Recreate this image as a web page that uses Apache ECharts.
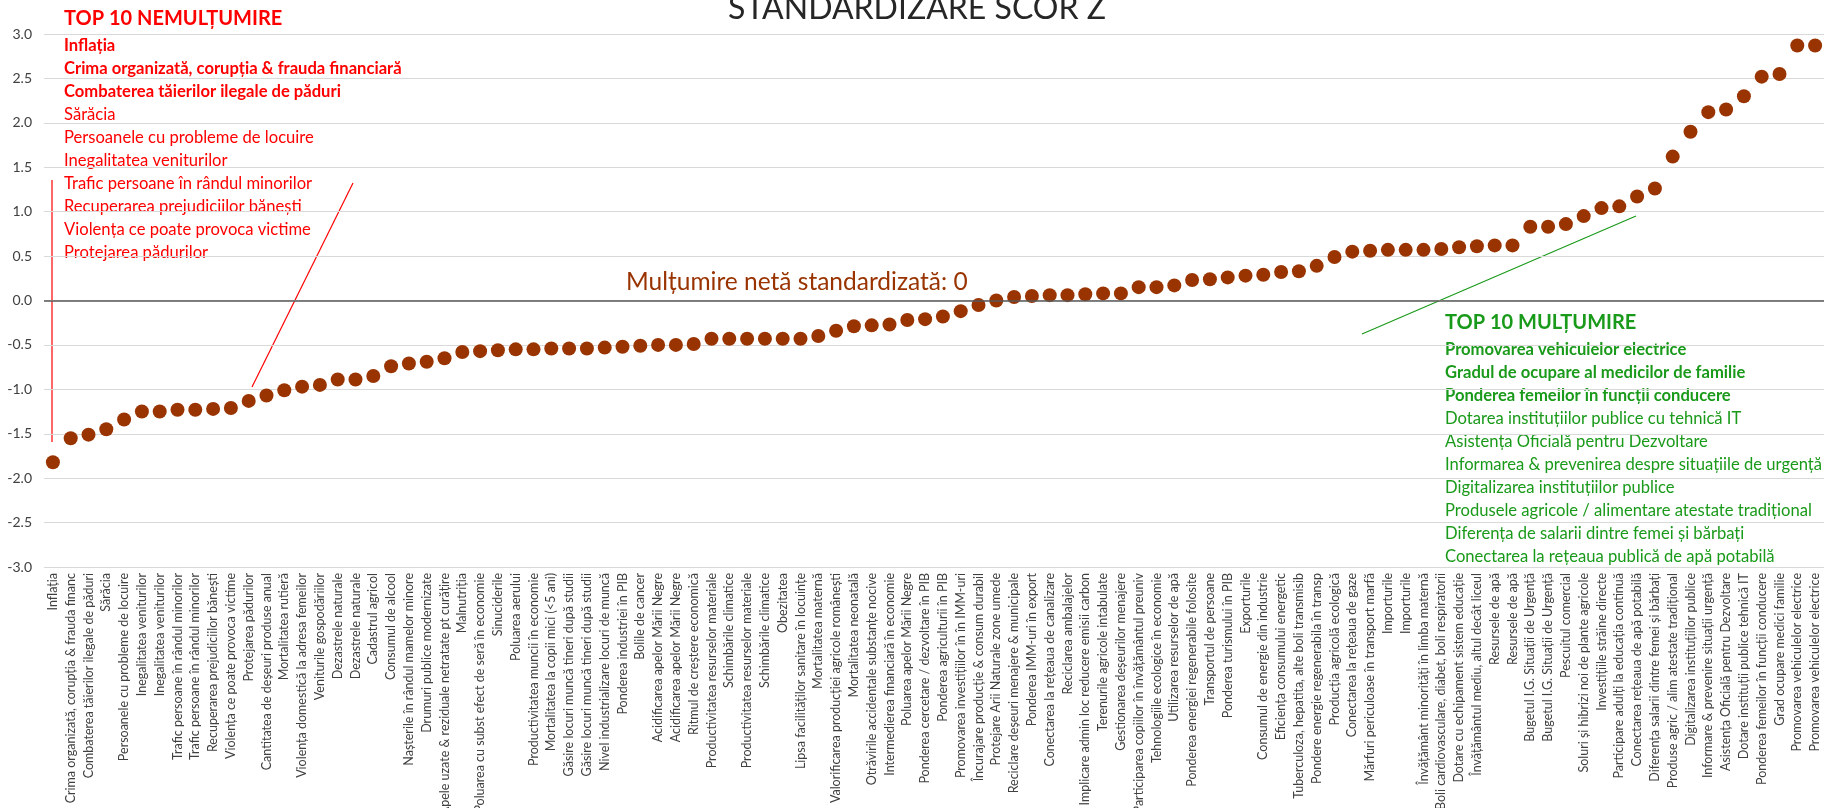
<!DOCTYPE html>
<html lang="ro">
<head>
    <meta charset="UTF-8">
    <title>Standardizare scor Z</title>
    <script src="https://cdn.jsdelivr.net/npm/echarts@6/dist/echarts.min.js"></script>
    <style>
        html, body { margin: 0; padding: 0; background: #fff; }
        #main { width: 1826px; height: 808px; }
    </style>
</head>
<body>
<div id="main"></div>
<script type="text/javascript">
    // categorii (axa X) in ordinea scorului
    var categorii = [
        'Inflația', 'Crima organizată, corupția & frauda financ', 'Combaterea tăierilor ilegale de păduri', 'Sărăcia',
        'Persoanele cu probleme de locuire', 'Inegalitatea veniturilor', 'Inegalitatea veniturilor',
        'Trafic persoane în rândul minorilor', 'Trafic persoane în rândul minorilor', 'Recuperarea prejudiciilor bănești',
        'Violența ce poate provoca victime', 'Protejarea pădurilor', 'Cantitatea de deșeuri produse anual',
        'Mortalitatea rutieră', 'Violența domestică la adresa femeilor', 'Veniturile gospodăriilor',
        'Dezastrele naturale', 'Dezastrele naturale', 'Cadastrul agricol', 'Consumul de alcool',
        'Nașterile în rândul mamelor minore', 'Drumuri publice modernizate', 'Apele uzate & reziduale netratate pt curățire',
        'Malnutriția', 'Poluarea cu subst efect de seră în economie', 'Sinuciderile', 'Poluarea aerului',
        'Productivitatea muncii în economie', 'Mortalitatea la copii mici (<5 ani)', 'Găsire locuri muncă tineri după studii',
        'Găsire locuri muncă tineri după studii', 'Nivel industrializare locuri de muncă', 'Ponderea industriei în PIB',
        'Bolile de cancer', 'Acidificarea apelor Mării Negre', 'Acidificarea apelor Mării Negre',
        'Ritmul de creștere economică', 'Productivitatea resurselor materiale', 'Schimbările climatice',
        'Productivitatea resurselor materiale', 'Schimbările climatice', 'Obezitatea',
        'Lipsa facilităților sanitare în locuințe', 'Mortalitatea maternă', 'Valorificarea producției agricole românești',
        'Mortalitatea neonatală', 'Otrăvirile accidentale substanțe nocive', 'Intermedierea financiară în economie',
        'Poluarea apelor Mării Negre', 'Ponderea cercetare / dezvoltare în PIB', 'Ponderea agriculturii în PIB',
        'Promovarea investițiilor în în IMM-uri', 'Încurajare producție & consum durabil', 'Protejare Arii Naturale zone umede',
        'Reciclare deșeuri menajere & municipale', 'Ponderea IMM-uri în export', 'Conectarea la rețeaua de canalizare',
        'Reciclarea ambalajelor', 'Implicare admin loc reducere emisii carbon', 'Terenurile agricole intabulate',
        'Gestionarea deșeurilor menajere', 'Participarea copiilor în învățământul preuniv', 'Tehnologiile ecologice în economie',
        'Utilizarea resurselor de apă', 'Ponderea energiei regenerabile folosite', 'Transportul de persoane',
        'Ponderea turismului în PIB', 'Exporturile', 'Consumul de energie din industrie', 'Eficiența consumului energetic',
        'Tuberculoza, hepatita, alte boli transmisib', 'Pondere energie regenerabila în transp', 'Producția agricolă ecologică',
        'Conectarea la rețeaua de gaze', 'Mărfuri periculoase în transport marfă', 'Importurile', 'Importurile',
        'Învățământ minorități în limba maternă', 'Boli cardiovasculare, diabet, boli respiratorii',
        'Dotare cu echipament sistem educație', 'Învățământul mediu, altul decât liceul', 'Resursele de apă',
        'Resursele de apă', 'Bugetul I.G. Situații de Urgență', 'Bugetul I.G. Situații de Urgență', 'Pescuitul comercial',
        'Soluri și hibrizi noi de plante agricole', 'Investițiile străine directe', 'Participare adulți la educația continuă',
        'Conectarea rețeaua de apă potabilă', 'Diferența salarii dintre femei și bărbați', 'Produse agric / alim atestate tradițional',
        'Digitalizarea instituțiilor publice', 'Informare & prevenire situații urgență', 'Asistența Oficială pentru Dezvoltare',
        'Dotare instituții publice tehnică IT', 'Ponderea femeilor în funcții conducere', 'Grad ocupare medici familie',
        'Promovarea vehiculelor electrice', 'Promovarea vehiculelor electrice'
    ];

    // scor Z standardizat
    var scoruri = [
        -1.82, -1.55, -1.51, -1.45, -1.34, -1.25, -1.25, -1.23, -1.23, -1.22,
        -1.21, -1.13, -1.07, -1.01, -0.97, -0.95, -0.89, -0.89, -0.85, -0.74,
        -0.71, -0.69, -0.65, -0.58, -0.57, -0.56, -0.55, -0.55, -0.54, -0.54,
        -0.54, -0.53, -0.52, -0.51, -0.50, -0.50, -0.49, -0.43, -0.43, -0.43,
        -0.43, -0.43, -0.43, -0.40, -0.34, -0.29, -0.28, -0.27, -0.22, -0.21,
        -0.18, -0.12, -0.05, 0.00, 0.04, 0.05, 0.06, 0.06, 0.07, 0.08,
        0.08, 0.15, 0.15, 0.17, 0.23, 0.24, 0.26, 0.28, 0.29, 0.32,
        0.33, 0.39, 0.49, 0.55, 0.56, 0.57, 0.57, 0.57, 0.58, 0.60,
        0.61, 0.62, 0.62, 0.83, 0.83, 0.86, 0.95, 1.04, 1.06, 1.17,
        1.26, 1.62, 1.90, 2.12, 2.15, 2.30, 2.52, 2.55, 2.87, 2.87
    ];

    var titluGrafic = 'STANDARDIZARE SCOR Z';
    var textZero = 'Mulțumire netă standardizată: 0';

    var topNemultumire = [
        'Inflația', 'Crima organizată, corupția & frauda financiară', 'Combaterea tăierilor ilegale de păduri',
        'Sărăcia', 'Persoanele cu probleme de locuire', 'Inegalitatea veniturilor',
        'Trafic persoane în rândul minorilor', 'Recuperarea prejudiciilor bănești',
        'Violența ce poate provoca victime', 'Protejarea pădurilor'
    ];
    var topMultumire = [
        'Promovarea vehiculelor electrice', 'Gradul de ocupare al medicilor de familie',
        'Ponderea femeilor în funcții conducere', 'Dotarea instituțiilor publice cu tehnică IT',
        'Asistența Oficială pentru Dezvoltare', 'Informarea & prevenirea despre situațiile de urgență',
        'Digitalizarea instituțiilor publice', 'Produsele agricole / alimentare atestate tradițional',
        'Diferența de salarii dintre femei și bărbați', 'Conectarea la rețeaua publică de apă potabilă'
    ];

    var FONT = 'Lato, "Open Sans", sans-serif';
    var ROSU = '#FF0000';
    var VERDE = '#1A9A1A';
    var MARO = '#993300';

    // lista de text: titlu + 10 randuri (primele 3 ingrosate)
    function listaText(x, yTitlu, titlu, randuri, culoare) {
        var el = [{
            type: 'text', silent: true,
            style: { x: x, y: yTitlu, text: titlu, fill: culoare, font: 'bold 20px ' + FONT, textVerticalAlign: 'middle' }
        }];
        randuri.forEach(function (r, i) {
            el.push({
                type: 'text', silent: true,
                style: {
                    x: x, y: yTitlu + 27 + i * 23, text: r, fill: culoare,
                    font: (i < 3 ? 'bold ' : '') + '16.6px ' + FONT, textVerticalAlign: 'middle'
                }
            });
        });
        return el;
    }

    var grafice = [
        { type: 'text', silent: true, style: { x: 917, y: 9, text: titluGrafic, fill: '#262626', font: '32px ' + FONT, textAlign: 'center', textVerticalAlign: 'middle' } },
        { type: 'text', silent: true, style: { x: 626, y: 282, text: textZero, fill: MARO, font: '24.5px ' + FONT, textVerticalAlign: 'middle' } },
        // linii de legatura
        { type: 'line', silent: true, shape: { x1: 52, y1: 180, x2: 52, y2: 442 }, style: { stroke: ROSU, lineWidth: 1.2 } },
        { type: 'line', silent: true, shape: { x1: 353, y1: 183, x2: 252, y2: 387 }, style: { stroke: ROSU, lineWidth: 1.2 } },
        { type: 'line', silent: true, shape: { x1: 1362, y1: 334, x2: 1636, y2: 216 }, style: { stroke: VERDE, lineWidth: 1.2 } }
    ].concat(listaText(64, 19, 'TOP 10 NEMULȚUMIRE', topNemultumire, ROSU))
     .concat(listaText(1445, 323, 'TOP 10 MULȚUMIRE', topMultumire, VERDE));

    var myChart = echarts.init(document.getElementById('main'));

    var option = {
        animation: false,
        textStyle: { fontFamily: FONT },
        grid: { left: 44, right: 2, top: 34, bottom: 241, containLabel: false, outerBoundsMode: 'none' },
        xAxis: {
            type: 'category',
            data: categorii,
            boundaryGap: true,
            axisLine: { show: false },
            axisTick: { show: false },
            splitLine: { show: false },
            axisLabel: { interval: 0, rotate: 90, fontSize: 12.5, color: '#404040', margin: 6 }
        },
        yAxis: {
            type: 'value',
            min: -3,
            max: 3,
            interval: 0.5,
            axisLine: { show: false },
            axisTick: { show: false },
            axisLabel: {
                fontSize: 14, color: '#404040', margin: 12,
                formatter: function (v) { return v.toFixed(1); }
            },
            splitLine: { lineStyle: { color: '#D9D9D9', width: 1 } }
        },
        series: [{
            type: 'scatter',
            data: scoruri,
            symbolSize: 14,
            itemStyle: { color: MARO, opacity: 1 },
            z: 3,
            markLine: {
                silent: true,
                symbol: 'none',
                label: { show: false },
                lineStyle: { color: '#595959', width: 1.5, type: 'solid' },
                data: [{ yAxis: 0 }]
            }
        }],
        graphic: grafice
    };

    myChart.setOption(option);
</script>
</body>
</html>
